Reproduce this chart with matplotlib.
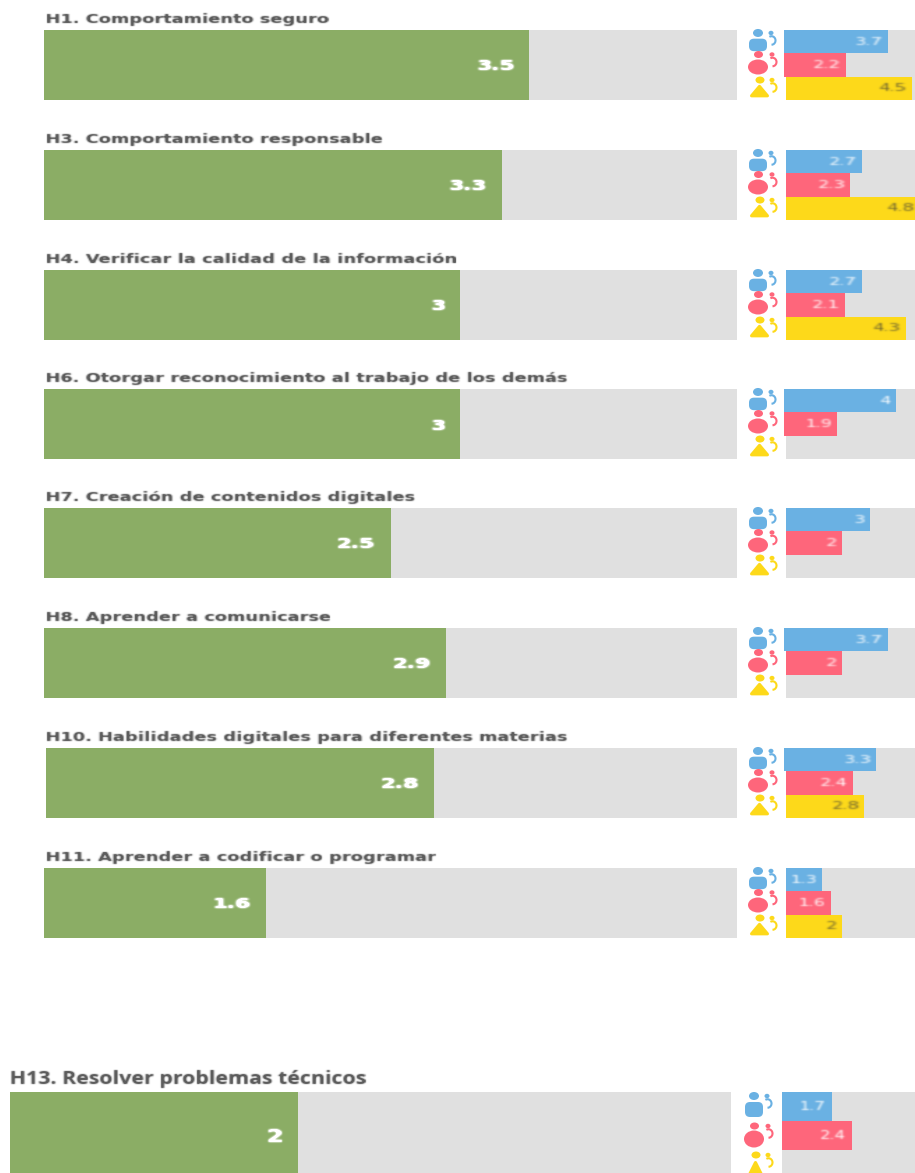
import numpy as np
import matplotlib
matplotlib.use("Agg")
import matplotlib.pyplot as plt
from matplotlib.colors import to_rgb
from matplotlib.patches import Ellipse, Polygon, FancyBboxPatch, Arc

W, H = 915, 1173

titles = ["H1. Comportamiento seguro", "H3. Comportamiento responsable",
          "H4. Verificar la calidad de la información",
          "H6. Otorgar reconocimiento al trabajo de los demás",
          "H7. Creación de contenidos digitales", "H8. Aprender a comunicarse",
          "H10. Habilidades digitales para diferentes materias",
          "H11. Aprender a codificar o programar", "H13. Resolver problemas técnicos"]
overall = [3.5, 3.3, 3.0, 3.0, 2.5, 2.9, 2.8, 1.6, 2.0]
overall_labels = ["3.5", "3.3", "3", "3", "2.5", "2.9", "2.8", "1.6", "2"]
blue = [3.7, 2.7, 2.7, 4.0, 3.0, 3.7, 3.3, 1.3, 1.7]
blue_labels = ["3.7", "2.7", "2.7", "4", "3", "3.7", "3.3", "1.3", "1.7"]
pink = [2.2, 2.3, 2.1, 1.9, 2.0, 2.0, 2.4, 1.6, 2.4]
pink_labels = ["2.2", "2.3", "2.1", "1.9", "2", "2", "2.4", "1.6", "2.4"]
yellow = [4.5, 4.8, 4.3, None, None, None, 2.8, 2.0, None]
yellow_labels = ["4.5", "4.8", "4.3", "", "", "", "2.8", "2", ""]

# layout, in pixels
tops = [30, 150, 270, 389, 508, 628, 748, 868, 1092]
heights = [70] * 8 + [87]
main_left = [44, 44, 44, 44, 44, 44, 46, 44, 10]
main_right = [737] * 8 + [731]
title_left = [46] * 8 + [10]
main_ppu = [138.7] * 8 + [144.2]
small_ppu = [28.0] * 8 + [29.3]
blue_left = [784, 786, 786, 784, 786, 784, 784, 786, 782]
pink_left = [784, 786, 786, 784, 786, 786, 786, 786, 782]
yellow_left = [786] * 8 + [782]

C_GREEN, C_GREY = "#8BAD65", "#E0E0E0"
C_BLUE, C_PINK, C_YELLOW = "#6AB1E3", "#FE667B", "#FDD91A"
C_TEXT = "#5C5C5C"

fig = plt.figure(figsize=(W / 100, H / 100), dpi=100, facecolor="white")


def soften(stretch, colour, anchor_right=False, gain=1.0):
    """Widen and slightly blur rendered text, like the resampled reference."""
    rgb = to_rgb(colour)

    def flt(img, dpi):
        a = img[..., 3]
        h, w = a.shape
        nw = int(round(w * stretch))
        xs = (np.arange(nw) + 0.5) / stretch - 0.5
        wide = np.array([np.interp(xs, np.arange(w), row) for row in a])
        p = 2
        wide = np.pad(wide, p)
        k = np.array([0.15, 0.7, 0.15])
        wide = np.apply_along_axis(lambda v: np.convolve(v, k, mode="same"), 0, wide)
        wide = np.apply_along_axis(lambda v: np.convolve(v, k, mode="same"), 1, wide)
        out = np.zeros(wide.shape + (4,))
        out[..., 0], out[..., 1], out[..., 2] = rgb
        out[..., 3] = np.clip(wide * gain, 0, 1)
        ox = -p - (nw - w) if anchor_right else -p
        return out, ox, -p

    return flt


def px_axes(x0, y0, x1, y1):
    ax = fig.add_axes([x0 / W, 1 - y1 / H, (x1 - x0) / W, (y1 - y0) / H])
    ax.set_axis_off()
    return ax


def bar_row(x0, y0, x1, y1, ppu, value, label, colour, text_colour, size, weight, pad, drop, stretch, gain):
    ax = px_axes(x0, y0, x1, y1)
    ax.set_xlim(0, (x1 - x0) / ppu)
    ax.set_ylim(-0.5, 0.5)
    ax.barh([0], [ax.get_xlim()[1]], height=1, color=C_GREY, linewidth=0)
    if value is not None:
        ax.barh([0], [value], height=1, color=colour, linewidth=0)
        t = ax.annotate(label, (value, 0), xytext=(-pad, -drop), textcoords="offset pixels",
                        ha="right", va="center", color=text_colour, fontsize=size,
                        fontweight=weight, family="DejaVu Sans", annotation_clip=False)
        t.set_agg_filter(soften(stretch, text_colour, anchor_right=True, gain=gain))


for i, title in enumerate(titles):
    top, hgt = tops[i], heights[i]
    last = i == 8
    bar_row(main_left[i], top, main_right[i], top + hgt, main_ppu[i], overall[i], overall_labels[i],
            C_GREEN, "white", 13 if last else 10, "bold", 15, 1.5, 1.15 if last else 1.26, 1.3)
    rh = hgt / 3
    rows = [(blue_left[i], blue[i], blue_labels[i], C_BLUE, "#FFFFFF"),
            (pink_left[i], pink[i], pink_labels[i], C_PINK, "#FFFFFF"),
            (yellow_left[i], yellow[i], yellow_labels[i], C_YELLOW, "#6E6430")]
    for r, (lft, val, lab, col, tc) in enumerate(rows):
        bar_row(lft, top + r * rh, W, top + (r + 1) * rh, small_ppu[i], val, lab, col, tc,
                9 if last else 7.5, "normal", 6 if last else 5, 0, 1.15 if last else 1.3, 1.0)
    t = fig.text(title_left[i] / W, 1 - (top - (8 if last else 7)) / H, title, color=C_TEXT,
                 va="baseline", fontsize=12.4 if last else 9.2, fontweight="bold",
                 family="Open Sans" if last else "DejaVu Sans")
    t.set_agg_filter(soften(1.24 if last else 1.395, C_TEXT, gain=1.15))

# person icons on a pixel overlay
ov = fig.add_axes([0, 0, 1, 1], zorder=5)
ov.set_xlim(0, W)
ov.set_ylim(H, 0)
ov.set_axis_off()
ov.patch.set_alpha(0)


def child(cx, cy, col):
    ov.add_patch(Ellipse((cx, cy), 5, 4.4, color=col, lw=0))
    ov.add_patch(Arc((cx + 0.5, cy + 7.5), 8, 8.5, theta1=-120, theta2=90, color=col, lw=1.5))


for i in range(9):
    top, hgt = tops[i], heights[i]
    last = i == 8
    rh = hgt / 3
    cx = 754 if last else 758
    kx = 767 if last else 771
    bh = 12 if last else 9.5
    # blue adult
    cy = top + rh / 2
    hy = cy - (10.5 if last else 8.7)
    ov.add_patch(Ellipse((cx, hy), 10, 8, color=C_BLUE, lw=0))
    by = cy - (3 if last else 1.5)
    ov.add_patch(FancyBboxPatch((cx - 7.5, by), 15, bh, boxstyle="round,pad=1.5,rounding_size=5",
                                color=C_BLUE, lw=0))
    child(kx, hy, C_BLUE)
    # pink adult
    cy = top + rh * 1.5
    hy = cy - (9.5 if last else 10.5)
    ov.add_patch(Ellipse((cx + 0.5, hy), 9, 7, color=C_PINK, lw=0))
    ov.add_patch(Ellipse((cx, cy + (3.5 if last else 2)), 20, 17 if last else 15, color=C_PINK, lw=0))
    child(kx + 1, hy, C_PINK)
    # yellow adult
    cy = top + rh * 2.5
    hy = cy - (9.5 if last else 8.3)
    ov.add_patch(Ellipse((cx + 2, hy), 9, 7, color=C_YELLOW, lw=0))
    apex = cy - 2
    base = cy + (14 if last else 7.5)
    ov.add_patch(Polygon([(cx - 6.5, base), (cx + 1.5, apex), (cx + 9.5, base)], closed=True,
                         facecolor=C_YELLOW, edgecolor=C_YELLOW, lw=2.2, joinstyle="round"))
    child(kx + 1, hy, C_YELLOW)

fig.savefig("out.png", dpi=100)
